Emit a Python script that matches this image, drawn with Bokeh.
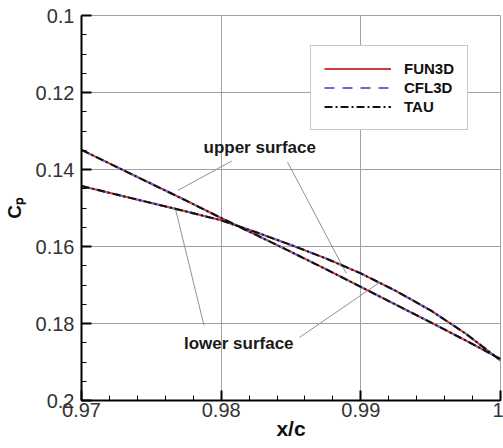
import numpy as np
from bokeh.plotting import figure
from bokeh.models import Range1d, FixedTicker, Label, Legend, LegendItem
from bokeh.embed import file_html
from bokeh.resources import INLINE

# ---- data ----
x_c = [0.970, 0.9725, 0.975, 0.9775, 0.980, 0.9825, 0.985, 0.9875,
       0.990, 0.9925, 0.995, 0.9975, 1.000]

fun3d_upper = [0.1349, 0.1393, 0.1437, 0.1481, 0.1526, 0.1570, 0.1614, 0.1659,
               0.1705, 0.1751, 0.1797, 0.1844, 0.1892]
fun3d_lower = [0.1443, 0.1465, 0.1487, 0.1509, 0.1532, 0.1563, 0.1596, 0.1631,
               0.1670, 0.1715, 0.1766, 0.1826, 0.1896]

cfl3d_upper = [0.1349, 0.1393, 0.1437, 0.1481, 0.1526, 0.1570, 0.1614, 0.1659,
               0.1705, 0.1751, 0.1797, 0.1844, 0.1892]
cfl3d_lower = [0.1443, 0.1465, 0.1487, 0.1509, 0.1532, 0.1563, 0.1596, 0.1631,
               0.1670, 0.1715, 0.1766, 0.1826, 0.1896]

tau_upper = [0.1349, 0.1393, 0.1437, 0.1481, 0.1526, 0.1570, 0.1614, 0.1659,
             0.1705, 0.1751, 0.1797, 0.1844, 0.1892]
tau_lower = [0.1443, 0.1465, 0.1487, 0.1509, 0.1532, 0.1563, 0.1596, 0.1631,
             0.1670, 0.1715, 0.1766, 0.1826, 0.1896]

series_names = ["FUN3D", "CFL3D", "TAU"]

x_ticks = [0.97, 0.98, 0.99, 1.0]
x_tick_labels = ["0.97", "0.98", "0.99", "1"]
y_ticks = [0.1, 0.12, 0.14, 0.16, 0.18, 0.2]
y_tick_labels = ["0.1", "0.12", "0.14", "0.16", "0.18", "0.2"]

FONT = "Liberation Sans"

p = figure(width=503, height=448, output_backend="svg", toolbar_location=None,
           x_range=Range1d(0.97, 1.0), y_range=Range1d(0.2, 0.1),
           min_border_left=79, min_border_right=3, min_border_top=15,
           min_border_bottom=48)
p.background_fill_color = "white"
p.border_fill_color = "white"
p.outline_line_color = "#a0a0a0"
p.outline_line_width = 1

# axes
p.xaxis.ticker = FixedTicker(ticks=x_ticks,
                             minor_ticks=list(np.round(np.arange(0.97, 1.0001, 0.002), 4)))
p.yaxis.ticker = FixedTicker(ticks=y_ticks,
                             minor_ticks=list(np.round(np.arange(0.1, 0.2001, 0.005), 4)))
p.xaxis.major_label_overrides = dict(zip(x_ticks, x_tick_labels))
p.yaxis.major_label_overrides = dict(zip(y_ticks, y_tick_labels))
for ax in (p.xaxis, p.yaxis):
    ax.axis_line_color = "black"
    ax.axis_line_width = 2
    ax.major_tick_line_color = "black"
    ax.major_tick_line_width = 2
    ax.minor_tick_line_color = "black"
    ax.minor_tick_line_width = 1
    ax.major_tick_in = 10
    ax.major_tick_out = 0
    ax.minor_tick_in = 5
    ax.minor_tick_out = 0
    ax.major_label_text_font = FONT
    ax.major_label_text_font_size = "20px"
    ax.major_label_text_color = "#333333"
    ax.axis_label_text_font = FONT
    ax.axis_label_text_font_style = "bold"
    ax.axis_label_text_color = "#111111"
p.xaxis.major_label_standoff = 2
p.yaxis.major_label_standoff = 7
p.xaxis.axis_label = "x/c"
p.xaxis.axis_label_text_font_size = "21px"
p.xaxis.axis_label_standoff = -3
p.yaxis.axis_label = "C\u209a"
p.yaxis.axis_label_text_font_size = "19px"
p.yaxis.axis_label_standoff = 8

for g in (p.xgrid, p.ygrid):
    g.grid_line_color = "#a0a0a0"
    g.grid_line_width = 1

# annotation pointer lines
p.segment(x0=[0.98076, 0.98475, 0.97877, 0.98561],
          y0=[0.13780, 0.13806, 0.18050, 0.18362],
          x1=[0.97691, 0.98896, 0.97670, 0.99124],
          y1=[0.14541, 0.16699, 0.14983, 0.16959],
          line_color="#909090", line_width=1)

# curves
styles = {
    "FUN3D": dict(line_color="#d03a3a", line_width=2),
    "CFL3D": dict(line_color="#6a6ad0", line_width=2, line_dash="10 8"),
    "TAU": dict(line_color="#111111", line_width=2, line_dash="8 3 2 3"),
}
data = {
    "FUN3D": (fun3d_upper, fun3d_lower),
    "CFL3D": (cfl3d_upper, cfl3d_lower),
    "TAU": (tau_upper, tau_lower),
}
items = []
for name in series_names:
    up, lo = data[name]
    r1 = p.line(x_c, up, **styles[name])
    r2 = p.line(x_c, lo, **styles[name])
    items.append(LegendItem(label=name, renderers=[r1]))

legend = Legend(items=items, location=(229, 270), padding=13, spacing=0, margin=0,
                glyph_width=67, glyph_height=19, label_height=19, label_standoff=13,
                label_text_font=FONT, label_text_font_size="15px",
                label_text_font_style="bold", label_text_color="#111111",
                border_line_color="#909090", border_line_width=1,
                background_fill_color="white", background_fill_alpha=1)
p.add_layout(legend, "center")

# text labels
p.add_layout(Label(x=0.98276, y=0.13416, text="upper surface", text_align="center",
                   text_baseline="middle", text_font=FONT, text_font_size="17px",
                   text_font_style="bold", text_color="#1a1a1a"))
p.add_layout(Label(x=0.98126, y=0.18519, text="lower surface", text_align="center",
                   text_baseline="middle", text_font=FONT, text_font_size="17px",
                   text_font_style="bold", text_color="#1a1a1a"))

open("out.html", "w").write(file_html(p, INLINE))
